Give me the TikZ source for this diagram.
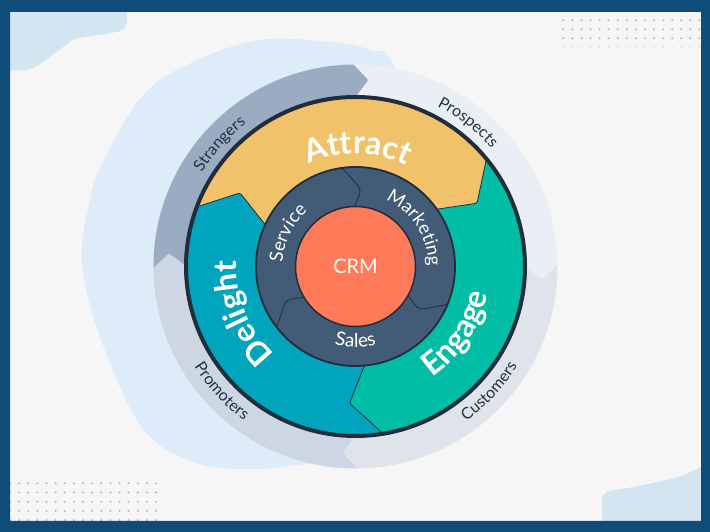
\documentclass[tikz,border=0pt]{standalone}
\usepackage{fontspec}
\setmainfont{Lato}
\usetikzlibrary{calc,decorations.text}
\definecolor{bgc}{HTML}{F6F6F6}
\definecolor{framec}{HTML}{104C79}
\definecolor{blobc}{HTML}{DDECF8}
\definecolor{cornerc}{HTML}{D3E5F1}
\definecolor{dotc}{HTML}{A8B6C6}
\definecolor{strc}{HTML}{9AACC2}
\definecolor{proc}{HTML}{EAEFF6}
\definecolor{cusc}{HTML}{DFE3EA}
\definecolor{promc}{HTML}{CDD7E3}
\definecolor{attc}{HTML}{F2C26A}
\definecolor{engc}{HTML}{00BDA5}
\definecolor{delc}{HTML}{00A4BD}
\definecolor{navyc}{HTML}{425B76}
\definecolor{crmc}{HTML}{FF7A59}
\definecolor{darkc}{HTML}{1F2D3D}
\definecolor{labc}{HTML}{213343}
\tikzset{
  segline/.style={draw=darkc, line width=0.8pt},
  divline/.style={draw=darkc, line width=0.8pt, rounded corners=5pt},
}
\begin{document}
\begin{tikzpicture}[x=1pt,y=1pt]
\useasboundingbox (0,0) rectangle (710,532);
\fill[bgc] (0,0) rectangle (710,532);
% corner blobs
\fill[cornerc, rounded corners=9pt] (0,532) -- (127,532) -- (127,502) -- (100,497) -- (75,494) -- (32,462) -- (0,461) -- cycle;
\fill[cornerc, rounded corners=8pt] (602,0) -- (602,40) -- (640,46) -- (680,55) -- (712,70) -- (712,0) -- cycle;
% big blob
\fill[blobc] plot[smooth cycle, tension=0.6] coordinates {(82,267) (90,332) (103,370) (143,437) (193,470) (260,492) (330,490) (370,482) (395,464) (440,332) (420,132) (330,77) (290,66) (243,63) (193,70) (143,103) (103,187)};
% dots
\foreach \i in {0,...,15} {
  \foreach \j in {0,1,2} {\fill[dotc] ({563.3+9.07*\i},{511.7-9*\j}) circle (1.1);}
  \fill[dotc!45] ({563.3+9.07*\i},484.7) circle (0.9);
}
\foreach \i in {0,...,16} {\foreach \j in {0,...,4} {\fill[dotc] ({10+9.13*\i},{48.7-9.2*\j}) circle (1.1);}}
\begin{scope}[shift={(355.5,265.5)}]
% outer ring boundaries
\foreach \n/\t in {B1/90,B2/0,B3/-90,B4/180} {
  \coordinate (\n-O) at ({\t+0.5}:202);
  \coordinate (\n-T) at ({\t-4}:187);
  \coordinate (\n-I) at ({\t}:169);
  \coordinate (\n-T1) at ($(\n-T)!4pt!(\n-O)$);
  \coordinate (\n-T2) at ($(\n-T)!4pt!(\n-I)$);
}
\fill[strc] (B4-O) arc[start angle=180.5, end angle=90.5, radius=202] -- (B1-T1) .. controls (B1-T) .. (B1-T2) -- (B1-I) arc[start angle=90, end angle=180, radius=169] -- (B4-T2) .. controls (B4-T) .. (B4-T1) -- cycle;
\fill[proc] (B1-O) arc[start angle=90.5, end angle=0.5, radius=202] -- (B2-T1) .. controls (B2-T) .. (B2-T2) -- (B2-I) arc[start angle=0, end angle=90, radius=169] -- (B1-T2) .. controls (B1-T) .. (B1-T1) -- cycle;
\fill[cusc] (B2-O) arc[start angle=0.5, end angle=-89.5, radius=202] -- (B3-T1) .. controls (B3-T) .. (B3-T2) -- (B3-I) arc[start angle=-90, end angle=0, radius=169] -- (B2-T2) .. controls (B2-T) .. (B2-T1) -- cycle;
\fill[promc] (B3-O) arc[start angle=-89.5, end angle=-179.5, radius=202] -- (B4-T1) .. controls (B4-T) .. (B4-T2) -- (B4-I) arc[start angle=-180, end angle=-90, radius=169] -- (B3-T2) .. controls (B3-T) .. (B3-T1) -- cycle;
% coloured ring boundaries
\foreach \n/\t in {A/39,E/-81,D/159} {
  \coordinate (\n-O) at ({\t}:168);
  \coordinate (\n-T) at ({\t-11.5}:137);
  \coordinate (\n-I) at ({\t-4}:100);
  \coordinate (\n-T1) at ($(\n-T)!5pt!(\n-O)$);
  \coordinate (\n-T2) at ($(\n-T)!5pt!(\n-I)$);
}
\fill[attc] (D-O) arc[start angle=159, end angle=39, radius=168] -- (A-T1) .. controls (A-T) .. (A-T2) -- (A-I) arc[start angle=35, end angle=155, radius=100] -- (D-T2) .. controls (D-T) .. (D-T1) -- cycle;
\fill[engc] (A-O) arc[start angle=39, end angle=-81, radius=168] -- (E-T1) .. controls (E-T) .. (E-T2) -- (E-I) arc[start angle=-85, end angle=35, radius=100] -- (A-T2) .. controls (A-T) .. (A-T1) -- cycle;
\fill[delc] (E-O) arc[start angle=-81, end angle=-201, radius=168] -- (D-T1) .. controls (D-T) .. (D-T2) -- (D-I) arc[start angle=-205, end angle=-85, radius=100] -- (E-T2) .. controls (E-T) .. (E-T1) -- cycle;
\foreach \n in {A,E,D} {\draw[segline] (\n-O) -- (\n-T1) .. controls (\n-T) .. (\n-T2) -- (\n-I);}
\draw[darkc, line width=4pt] (0,0) circle (169.5);
% inner ring
\fill[navyc] (0,0) circle (100);
\draw[darkc, line width=1.8pt] (0,0) circle (99.5);
\foreach \n/\t in {K1/97.5,K2/-22.5,K3/217.5} {
  \coordinate (\n-O) at ({\t}:99);
  \coordinate (\n-T) at ({\t-12}:77);
  \coordinate (\n-I) at ({\t-6.5}:60);
  \draw[divline] (\n-O) -- (\n-T) -- (\n-I);
}
\node[circle, fill=crmc, draw=darkc, line width=1.5pt, minimum size=120pt, inner sep=0pt, text=white, font=\fontsize{20}{20}\selectfont] (crm) at (0,0) {CRM};
% big labels
\path[decorate, decoration={text along path, text align=center, text color=white, text={|\fontsize{32}{32}\selectfont\bfseries|Attract}}] (149:113) arc[start angle=149, end angle=29, radius=113];
\path[decorate, decoration={text along path, text align=center, text color=white, text={|\fontsize{32}{32}\selectfont\bfseries|Engage}}] (-93.5:135) arc[start angle=-93.5, end angle=26.5, radius=135];
\path[decorate, decoration={text along path, text align=center, text color=white, text={|\fontsize{32}{32}\selectfont\bfseries|Delight}}] (262.4:119) arc[start angle=262.4, end angle=142.4, radius=119];
% inner ring labels
\path[decorate, decoration={text along path, text align=center, text color=white, text={|\fontsize{18.5}{18.5}\selectfont|Service}}] (214:73) arc[start angle=214, end angle=94, radius=73];
\path[decorate, decoration={text along path, text align=center, text color=white, text={|\fontsize{18.5}{18.5}\selectfont|Marketing}}] (93:73) arc[start angle=93, end angle=-27, radius=73];
\path[decorate, decoration={text along path, text align=center, text color=white, text={|\fontsize{19}{19}\selectfont|Sales}}] (-150:81) arc[start angle=-150, end angle=-30, radius=81];
% outer labels
\path[decorate, decoration={text along path, text align=center, text color=labc, text={|\fontsize{16}{16}\selectfont|Strangers}}] (178:180) arc[start angle=178, end angle=98, radius=180];
\path[decorate, decoration={text along path, text align=center, text color=labc, text={|\fontsize{16}{16}\selectfont|Prospects}}] (92:180) arc[start angle=92, end angle=12, radius=180];
\path[decorate, decoration={text along path, text align=center, text color=labc, text={|\fontsize{16}{16}\selectfont|Customers}}] (-83:190) arc[start angle=-83, end angle=-3, radius=190];
\path[decorate, decoration={text along path, text align=center, text color=labc, text={|\fontsize{16}{16}\selectfont|Promoters}}] (183:190) arc[start angle=183, end angle=263, radius=190];
\end{scope}
% frame
\fill[framec, even odd rule] (0,0) rectangle (710,532) (10,11) rectangle (701,520);
\end{tikzpicture}
\end{document}
